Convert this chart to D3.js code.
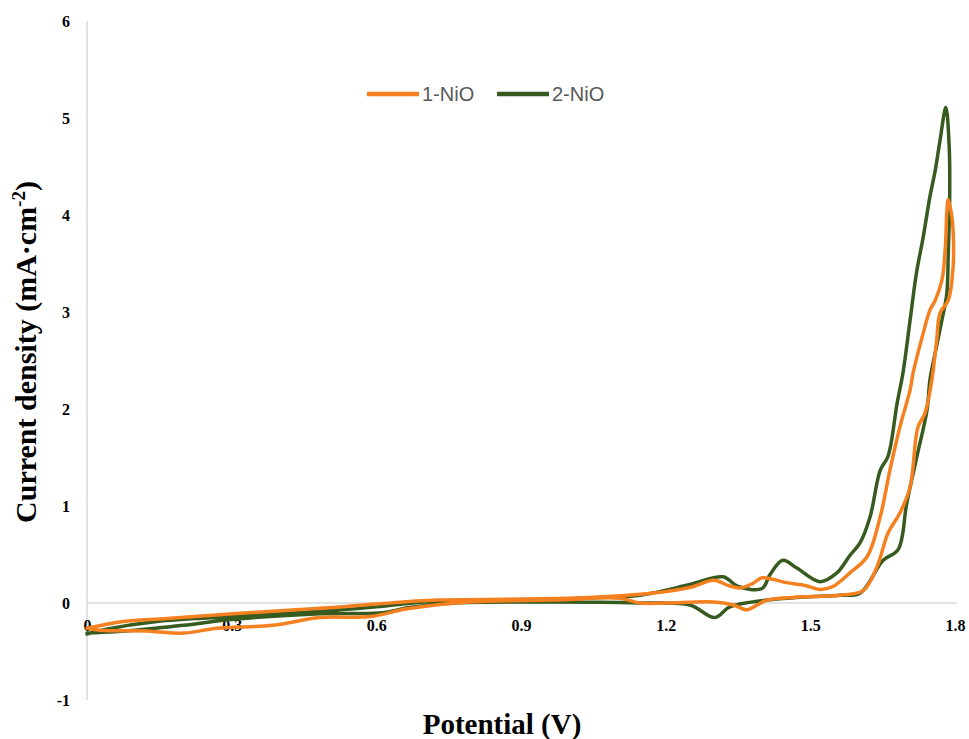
<!DOCTYPE html>
<html>
<head>
<meta charset="utf-8">
<script src="https://cdn.jsdelivr.net/npm/d3@7"></script>
<style>
	body { margin: 0; background: #fff; }
	.tick text { font-family: "Liberation Serif", "Times New Roman", serif; font-weight: bold; font-size: 16px; fill: #000; }
	.domain { stroke: #d9d9d9; stroke-width: 1.5; }
	.cv-line { fill: none; stroke-width: 3.5; stroke-linejoin: round; stroke-linecap: round; }
	.title { font-family: "Liberation Serif", "Times New Roman", serif; font-weight: bold; fill: #000; }
	.leg-text { font-family: "Liberation Sans", Arial, sans-serif; font-size: 20px; fill: #595959; }
</style>
</head>
<body>
<div id="chart"></div>
<script>
		//series names
		var seriesNames = ["1-NiO", "2-NiO"];

		//1-NiO loop, potential (V) then current density, anodic scan then back
		var nio1V = [0, 0.075, 0.166, 0.303, 0.5, 0.6, 0.726, 0.9, 1.05, 1.17, 1.25, 1.30, 1.33, 1.354, 1.38, 1.40, 1.45, 1.49, 1.52, 1.547, 1.582, 1.618, 1.645, 1.665, 1.686, 1.707, 1.713, 1.734, 1.748, 1.759, 1.773, 1.78, 1.783, 1.786,
			1.793, 1.796, 1.796, 1.786, 1.769, 1.762, 1.752, 1.738, 1.723, 1.707, 1.686, 1.661, 1.638, 1.61, 1.56, 1.47, 1.41, 1.39, 1.369, 1.34, 1.30, 1.2, 1.147, 1.105, 0.966, 0.794, 0.664, 0.587, 0.483, 0.386, 0.27, 0.2, 0.13, 0.027, 0];
		var nio1I = [-0.26, -0.19, -0.16, -0.11, -0.05, -0.01, 0.03, 0.04, 0.06, 0.10, 0.16, 0.235, 0.18, 0.155, 0.20, 0.26, 0.21, 0.18, 0.14, 0.17, 0.31, 0.48, 0.89, 1.37, 1.82, 2.2, 2.37, 2.78, 3.02, 3.12, 3.33, 3.67, 4.02, 4.16,
			4.0, 3.85, 3.46, 3.12, 2.99, 2.71, 2.3, 1.96, 1.81, 1.2, 0.93, 0.72, 0.37, 0.13, 0.08, 0.06, 0.03, -0.02, -0.07, -0.02, 0.01, 0.0, 0.0, 0.05, 0.03, 0.01, -0.06, -0.14, -0.15, -0.23, -0.26, -0.31, -0.29, -0.28, -0.26];

		//2-NiO loop
		var nio2V = [0, 0.04, 0.145, 0.303, 0.5, 0.6, 0.726, 0.9, 1.08, 1.147, 1.25, 1.319, 1.35, 1.40, 1.416, 1.443, 1.472, 1.52, 1.555, 1.582, 1.603, 1.624, 1.645, 1.661, 1.68, 1.692, 1.707, 1.72, 1.734, 1.748, 1.759, 1.769, 1.781,
			1.788, 1.789, 1.786, 1.783, 1.773, 1.759, 1.748, 1.742, 1.721, 1.70, 1.682, 1.651, 1.603, 1.562, 1.479, 1.41, 1.333, 1.302, 1.25, 1.147, 0.966, 0.76, 0.664, 0.614, 0.483, 0.3, 0.2, 0.1, 0];
		var nio2I = [-0.32, -0.27, -0.19, -0.14, -0.08, -0.04, 0.02, 0.03, 0.06, 0.08, 0.19, 0.27, 0.17, 0.15, 0.29, 0.44, 0.36, 0.22, 0.31, 0.49, 0.62, 0.89, 1.37, 1.51, 2.06, 2.37, 2.92, 3.4, 3.77, 4.19, 4.46, 4.77, 5.11,
			4.7, 4.19, 3.6, 3.19, 2.92, 2.58, 2.3, 1.99, 1.51, 1.03, 0.55, 0.44, 0.1, 0.08, 0.06, 0.03, -0.04, -0.15, -0.02, 0.0, 0.01, 0.0, -0.05, -0.1, -0.11, -0.17, -0.23, -0.28, -0.31];

		//tick labels
		var xTicks = [0, 0.3, 0.6, 0.9, 1.2, 1.5, 1.8];
		var xTickLabels = ["0", "0.3", "0.6", "0.9", "1.2", "1.5", "1.8"];
		var yTicks = [-1, 0, 1, 2, 3, 4, 5, 6];
		var yTickLabels = ["-1", "0", "1", "2", "3", "4", "5", "6"];

		var colors = ["#f5801f", "#375a1f"];

		var width = 969;
		var height = 739;

		var x = d3.scaleLinear()
				.domain([0, 1.8])
				.range([87, 955]);
		var y = d3.scaleLinear()
				.domain([-1, 6])
				.range([700, 21]);

		var svg = d3.select("#chart").append("svg")
			.attr("width", width)
			.attr("height", height);

		//axes
		svg.append("g")
				.attr("class", "y-axis")
				.attr("transform", "translate(87,0)")
				.call(d3.axisLeft(y).tickValues(yTicks).tickSize(0).tickPadding(17)
					.tickFormat(function(d, k){ return yTickLabels[k]; }));
		svg.append("g")
				.attr("class", "x-axis")
				.attr("transform", "translate(0," + y(0) + ")")
				.call(d3.axisBottom(x).tickValues(xTicks).tickSize(0).tickPadding(17)
					.tickFormat(function(d, k){ return xTickLabels[k]; }));
		//axis lines: y from 6 to -1, x a bit past 1.8
		svg.select(".y-axis .domain").attr("d", "M0," + y(6) + "V" + y(-1));
		svg.select(".x-axis .domain").attr("d", "M" + x(0) + ",0H" + (x(1.8) + 2));

		//lines
		var line = d3.line()
				.x(function(d){ return x(d.v); })
				.y(function(d){ return y(d.i); })
				.curve(d3.curveCatmullRom.alpha(0.5));

		function makeData(vs, is){
			return vs.map(function(v, k){ return {v: v, i: is[k]}; });
		}
		var series = [makeData(nio1V, nio1I), makeData(nio2V, nio2I)];

		//green under orange
		[1, 0].forEach(function(k){
			svg.append("path")
					.attr("class", "cv-line")
					.attr("stroke", colors[k])
					.attr("d", line(series[k]));
		});

		//titles
		svg.append("text")
				.attr("class", "title")
				.attr("font-size", "29px")
				.attr("text-anchor", "middle")
				.attr("x", 502)
				.attr("y", 734)
				.text("Potential (V)");
		var yt = svg.append("text")
				.attr("class", "title")
				.attr("font-size", "30px")
				.attr("text-anchor", "middle")
				.attr("transform", "translate(36,352) rotate(-90)");
		yt.append("tspan").text("Current density (mA·cm");
		yt.append("tspan").attr("font-size", "19px").attr("dy", "-11").text("-2");
		yt.append("tspan").attr("dy", "11").text(")");

		//legend
		var legX = [367, 497];
		seriesNames.forEach(function(name, k){
			svg.append("line")
					.attr("x1", legX[k]).attr("x2", legX[k] + 52)
					.attr("y1", 94).attr("y2", 94)
					.attr("stroke", colors[k])
					.attr("stroke-width", 4.5);
			svg.append("text")
					.attr("class", "leg-text")
					.attr("x", legX[k] + 55)
					.attr("y", 101)
					.text(name);
		});
</script>
</body>
</html>
